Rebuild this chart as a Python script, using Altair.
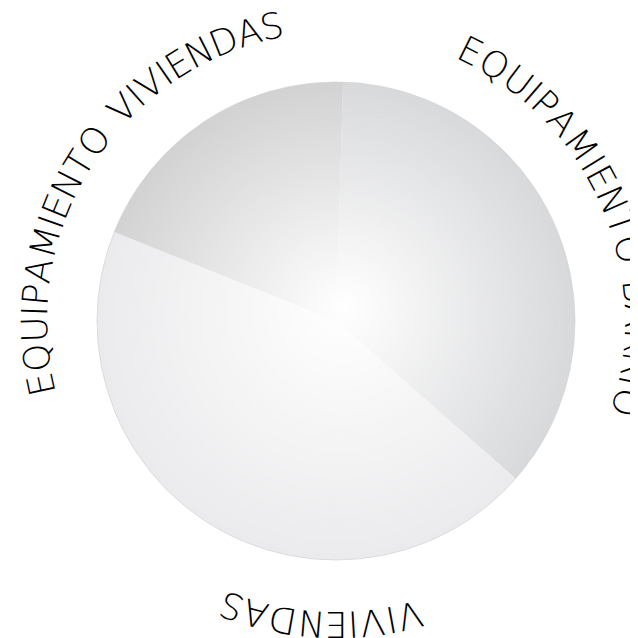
import math
import altair as alt
import pandas as pd

# ---- data ----
categories = ["EQUIPAMIENTO BARRIO", "VIVIENDAS", "EQUIPAMIENTO VIVIENDAS"]
shares = [36.0, 44.6, 19.4]
slice_colors = ["#d8d9db", "#ebebed", "#d2d2d3"]

# label arc placement (degrees clockwise from 12 o'clock: first / last letter centre)
label_start = [26.5, 165.9, 257.9]
label_end = [105.7, 200.1, 347.7]
label_radius = [300, 302, 300]

# approximate relative letter advances
glyph_w = {"E": 18, "Q": 26, "U": 21, "I": 9, "P": 18, "A": 22, "M": 26, "N": 22,
           "T": 18, "O": 26, " ": 12, "B": 18, "R": 19, "V": 21, "D": 22, "S": 17}

pie_df = pd.DataFrame({"cat": categories, "share": shares, "idx": list(range(len(categories)))})

rows = []
for cat, a0, a1, rr in zip(categories, label_start, label_end, label_radius):
    ws = [glyph_w.get(c, 18) for c in cat]
    centers = []
    acc = 0.0
    for w in ws:
        centers.append(acc + w / 2)
        acc += w
    c0, c1 = centers[0], centers[-1]
    for ch, c in zip(cat, centers):
        if ch == " ":
            continue
        ang = a0 + (c - c0) / (c1 - c0) * (a1 - a0)
        rows.append({"ch": ch, "ang": ang % 360, "r": rr})
text_df = pd.DataFrame(rows)

OFFSET = math.radians(1.7)
TAU = 2 * math.pi
R = 239

pie = alt.Chart(pie_df).mark_arc(radius=R).encode(
    theta=alt.Theta("share:Q", stack=True, scale=alt.Scale(range=[OFFSET, OFFSET + TAU])),
    color=alt.Color("cat:N", scale=alt.Scale(domain=categories, range=slice_colors), legend=None),
    order=alt.Order("idx:Q"),
)

glow = alt.Chart(pd.DataFrame({"v": [1]})).mark_arc(
    radius=R,
    color=alt.Gradient(
        gradient="radial",
        stops=[
            alt.GradientStop(offset=0, color="rgba(255,255,255,1)"),
            alt.GradientStop(offset=0.45, color="rgba(255,255,255,0.55)"),
            alt.GradientStop(offset=1, color="rgba(255,255,255,0)"),
        ],
        x1=0.52, y1=0.47, r1=0, x2=0.5, y2=0.5, r2=0.5,
    ),
    stroke="#d6d6d8",
    strokeWidth=0.8,
).encode(theta=alt.Theta("v:Q"))

labels = alt.Chart(text_df).mark_text(
    font="DejaVu Sans", fontSize=36, fontWeight=200, align="center", baseline="middle", color="#000000"
).encode(
    theta=alt.Theta("ang:Q", scale=alt.Scale(domain=[0, 360], range=[0, TAU])),
    radius=alt.Radius("r:Q", scale=None),
    angle=alt.Angle("ang:Q", scale=alt.Scale(domain=[0, 360], range=[0, 360])),
    text="ch:N",
)

chart = alt.layer(pie, glow, labels).resolve_scale(theta="independent").properties(
    width=588,
    height=626,
    autosize=alt.AutoSizeParams(type="none"),
    padding={"left": 34, "top": 0, "right": 0, "bottom": 4},
    background="white",
).configure_view(stroke=None)

chart.save("out.html", embed_options={"renderer": "svg", "actions": False})
